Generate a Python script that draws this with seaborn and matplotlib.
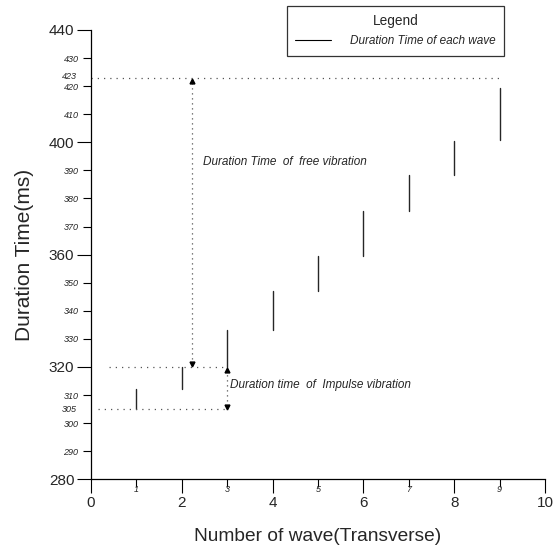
import numpy as np
import pandas as pd
import matplotlib
matplotlib.use("Agg")
import matplotlib.pyplot as plt
import seaborn as sns
from matplotlib.lines import Line2D

# ---- data ----
waves = [1, 2, 3, 4, 5, 6, 7, 8, 9]
seg_start = [305, 312, 320, 333, 347, 359.5, 375.5, 388.5, 401]
seg_end = [312, 320, 333, 347, 359.5, 375.5, 388.5, 400.5, 419.5]

y_major = [280, 320, 360, 400, 440]
y_minor = [290, 300, 310, 330, 340, 350, 370, 380, 390, 410, 420, 430]
x_major = [0, 2, 4, 6, 8, 10]
x_minor = [1, 3, 5, 7, 9]

impulse_start, impulse_end = 305, 320
free_start, free_end = 320, 423

rows = []
for w, s, e in zip(waves, seg_start, seg_end):
    rows.append({"wave": w, "x": w, "y": s})
    rows.append({"wave": w, "x": w, "y": e})
df = pd.DataFrame(rows)

sns.set_style("ticks")
plt.rcParams["font.family"] = ["Liberation Sans", "DejaVu Sans"]

fig = plt.figure(figsize=(5.53, 5.48), dpi=100)
ax = fig.add_axes([91 / 553, 1 - 479.3 / 548, (545 - 91) / 553, (479.3 - 30) / 548])

sns.lineplot(data=df, x="x", y="y", units="wave", estimator=None,
             color="#262626", linewidth=1.0, ax=ax, legend=False)

ax.set_xlim(0, 10)
ax.set_ylim(280, 440)

# dotted reference lines
dot_kw = dict(color="#555555", linestyle=(0, (1, 4)), linewidth=0.9)
ax.plot([0, 9], [free_end, free_end], **dot_kw)
ax.plot([0.4, 3], [free_start, free_start], **dot_kw)
ax.plot([0.15, 3], [impulse_start, impulse_start], **dot_kw)

# double arrows
ax.plot([2.22, 2.22], [free_start + 1, free_end - 1], color="#555555",
        linestyle=(0, (1, 3)), linewidth=0.9)
ax.plot([2.22], [free_end - 1.2], marker="^", color="black", markersize=3.5)
ax.plot([2.22], [free_start + 1.2], marker="v", color="black", markersize=3.5)
ax.plot([3.0, 3.0], [impulse_start + 1, impulse_end - 1], color="#555555",
        linestyle=(0, (1, 3)), linewidth=0.9)
ax.plot([3.0], [impulse_end - 0.9], marker="^", color="black", markersize=3.5)
ax.plot([3.0], [impulse_start + 0.9], marker="v", color="black", markersize=3.5)

ax.text(2.47, 393, "Duration Time  of  free vibration", fontsize=8.5,
        style="italic", va="center", ha="left")
ax.text(3.06, 313.5, "Duration time  of  Impulse vibration", fontsize=8.5,
        style="italic", va="center", ha="left")

# ticks
ax.set_yticks(y_major)
ax.set_yticklabels([str(v) for v in y_major], fontsize=11)
ax.set_yticks(y_minor, minor=True)
ax.set_yticklabels([str(v) for v in y_minor], minor=True, fontsize=6.5, style="italic")
ax.set_xticks(x_major)
ax.set_xticklabels([str(v) for v in x_major], fontsize=11)
ax.set_xticks(x_minor, minor=True)
ax.set_xticklabels([str(v) for v in x_minor], minor=True, fontsize=6.5, style="italic")

ax.tick_params(axis="both", which="major", length=10, width=0.8, color="black", pad=2)
ax.tick_params(axis="both", which="minor", length=6, width=0.8, color="black", pad=3)
ax.tick_params(axis="x", which="minor", pad=-2)

trans = ax.get_yaxis_transform()
ax.text(-0.031, 305, "305", transform=trans, fontsize=6.5, style="italic",
        ha="right", va="center")
ax.text(-0.031, 423.5, "423", transform=trans, fontsize=6.5, style="italic",
        ha="right", va="center")

ax.set_ylabel("Duration Time(ms)", fontsize=15, labelpad=11)
ax.set_xlabel("Number of wave(Transverse)", fontsize=13.8, labelpad=13)

for side in ["top", "right"]:
    ax.spines[side].set_visible(False)
for side in ["left", "bottom"]:
    ax.spines[side].set_color("black")
    ax.spines[side].set_linewidth(0.9)

handle = Line2D([], [], color="black", linewidth=0.8)
leg = fig.legend([handle], ["Duration Time of each wave"], title="Legend",
                 loc="upper left", bbox_to_anchor=(283 / 553, 1 - 2 / 548),
                 frameon=True, fancybox=False, edgecolor="black",
                 prop={"style": "italic", "size": 8.5}, title_fontsize=9.8,
                 handlelength=3.0, borderpad=0.75, handletextpad=1.6,
                 borderaxespad=0.3, labelspacing=0.6)
leg.get_frame().set_linewidth(0.9)

fig.savefig("out.png", dpi=100, facecolor="white")
